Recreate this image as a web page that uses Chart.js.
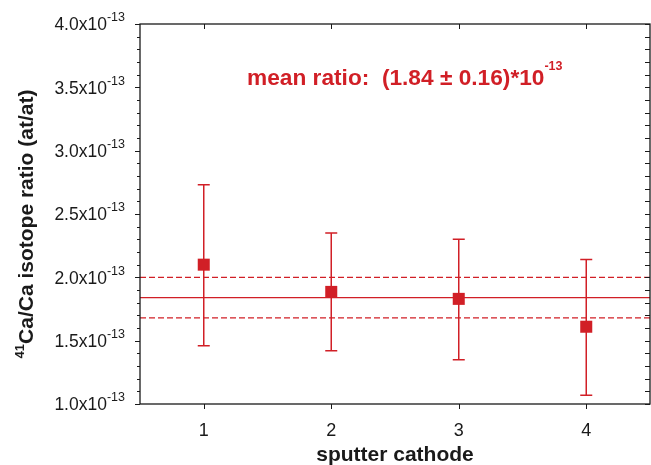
<!DOCTYPE html>
<html>
<head>
<meta charset="utf-8">
<script src="https://cdn.jsdelivr.net/npm/chart.js@4"></script>
<style>
  html, body { margin: 0; padding: 0; background: #fff; overflow: hidden; }
</style>
</head>
<body>
<canvas id="myChart" width="651" height="465"></canvas>
<script>
// values in units of 1e-13
var cathodes = [1, 2, 3, 4];
var ratios = [2.10, 1.885, 1.83, 1.61];
var errUp = [2.73, 2.35, 2.30, 2.14];
var errDown = [1.46, 1.42, 1.35, 1.07];
var meanRatio = 1.84;
var meanErr = 0.16;
var yTicks = [1.0, 1.5, 2.0, 2.5, 3.0, 3.5, 4.0];

var red = "#d11f26";
var ink = "#1a1a1a";
var fontName = "'Liberation Sans', Arial, sans-serif";

var points = cathodes.map(function (c, i) { return { x: c, y: ratios[i] }; });
function hline(v) { return [{ x: 0.5, y: v }, { x: 4.5, y: v }]; }

var frame = {
  id: "frame",
  beforeDatasetsDraw: function (chart) {
    var ctx = chart.ctx, xs = chart.scales.x, ys = chart.scales.y;
    ctx.save();
    ctx.strokeStyle = red;
    ctx.lineWidth = 1.5;
    cathodes.forEach(function (c, i) {
      var px = xs.getPixelForValue(c);
      var top = ys.getPixelForValue(errUp[i]);
      var bot = ys.getPixelForValue(errDown[i]);
      ctx.beginPath();
      ctx.moveTo(px, top); ctx.lineTo(px, bot);
      ctx.moveTo(px - 6, top); ctx.lineTo(px + 6, top);
      ctx.moveTo(px - 6, bot); ctx.lineTo(px + 6, bot);
      ctx.stroke();
    });
    ctx.restore();
  },
  afterDraw: function (chart) {
    var ctx = chart.ctx, a = chart.chartArea, xs = chart.scales.x, ys = chart.scales.y;
    ctx.save();
    ctx.strokeStyle = ink;
    ctx.lineWidth = 1.3;
    ctx.strokeRect(a.left, a.top, a.right - a.left, a.bottom - a.top);

    // minor/major ticks on y (outside left, inside right)
    ctx.lineWidth = 1;
    for (var k = 0; k <= 30; k++) {
      var v = 1.0 + k * 0.1;
      var py = Math.round(ys.getPixelForValue(v)) + 0.5;
      var len = k % 5 === 0 ? 5 : 3;
      ctx.beginPath();
      ctx.moveTo(a.left - len, py); ctx.lineTo(a.left, py);
      ctx.moveTo(a.right - 5, py); ctx.lineTo(a.right, py);
      ctx.stroke();
    }
    // x ticks (outside bottom, inside top)
    cathodes.forEach(function (c) {
      var px = Math.round(xs.getPixelForValue(c)) + 0.5;
      ctx.beginPath();
      ctx.moveTo(px, a.bottom); ctx.lineTo(px, a.bottom + 5);
      ctx.moveTo(px, a.top); ctx.lineTo(px, a.top + 5);
      ctx.stroke();
    });

    // y tick labels with superscript exponent
    ctx.fillStyle = ink;
    ctx.textBaseline = "middle";
    yTicks.forEach(function (v) {
      var py = ys.getPixelForValue(v);
      ctx.font = "12.5px " + fontName;
      var sup = "-13";
      var sw = ctx.measureText(sup).width;
      ctx.textAlign = "left";
      ctx.fillText(sup, 125 - sw, py - 6);
      ctx.font = "17.5px " + fontName;
      ctx.textAlign = "right";
      ctx.fillText(v.toFixed(1) + "x10", 125 - sw, py + 1.5);
    });

    // y axis title
    ctx.save();
    ctx.translate(33, (a.top + a.bottom) / 2 + 10);
    ctx.rotate(-Math.PI / 2);
    ctx.textBaseline = "alphabetic";
    ctx.font = "bold 13px " + fontName;
    var s1 = "41";
    var w1 = ctx.measureText(s1).width;
    ctx.font = "bold 21px " + fontName;
    var s2 = "Ca/Ca isotope ratio (at/at)";
    var w2 = ctx.measureText(s2).width;
    var x0 = -(w1 + w2) / 2;
    ctx.textAlign = "left";
    ctx.fillText(s2, x0 + w1, 0);
    ctx.font = "bold 13px " + fontName;
    ctx.fillText(s1, x0, -9);
    ctx.restore();

    // x axis title
    ctx.textBaseline = "alphabetic";
    ctx.font = "bold 21px " + fontName;
    ctx.textAlign = "center";
    ctx.fillText("sputter cathode", (a.left + a.right) / 2, 461);

    // annotation
    ctx.fillStyle = red;
    ctx.textAlign = "left";
    ctx.font = "bold 22.7px " + fontName;
    var txt = "mean ratio:  (" + meanRatio.toFixed(2) + " \u00b1 " + meanErr.toFixed(2) + ")*10";
    ctx.fillText(txt, 247, 85);
    var tw = ctx.measureText(txt).width;
    ctx.font = "bold 12.5px " + fontName;
    ctx.fillText("-13", 247 + tw, 70);
    ctx.restore();
  }
};

var config = {
  type: "scatter",
  data: {
    datasets: [
      {
        label: "mean",
        data: hline(meanRatio),
        showLine: true,
        borderColor: red,
        borderWidth: 1.3,
        pointRadius: 0
      },
      {
        label: "mean + err",
        data: hline(meanRatio + meanErr),
        showLine: true,
        borderColor: red,
        borderWidth: 1.3,
        borderDash: [6, 3],
        pointRadius: 0
      },
      {
        label: "mean - err",
        data: hline(meanRatio - meanErr),
        showLine: true,
        borderColor: red,
        borderWidth: 1.3,
        borderDash: [6, 3],
        pointRadius: 0
      },
      {
        label: "ratio",
        data: points,
        pointStyle: "rect",
        pointRadius: 8.5,
        pointHoverRadius: 8.5,
        backgroundColor: red,
        borderWidth: 0
      }
    ]
  },
  options: {
    responsive: false,
    animation: false,
    layout: { autoPadding: false, padding: { left: 0, top: 24, right: 1, bottom: 0 } },
    plugins: { legend: { display: false }, tooltip: { enabled: false } },
    scales: {
      x: {
        type: "linear",
        min: 0.5,
        max: 4.5,
        afterBuildTicks: function (s) { s.ticks = cathodes.map(function (c) { return { value: c }; }); },
        afterFit: function (s) { s.height = 61; },
        grid: { display: false },
        border: { display: false },
        ticks: {
          color: ink,
          padding: 8,
          font: { family: fontName, size: 18 },
          callback: function (v) { return String(v); }
        }
      },
      y: {
        min: 1.0,
        max: 4.0,
        afterFit: function (s) { s.width = 140; },
        grid: { display: false },
        border: { display: false },
        ticks: { display: false }
      }
    }
  },
  plugins: [frame]
};

var myChart = new Chart(document.getElementById("myChart"), config);
</script>
</body>
</html>
